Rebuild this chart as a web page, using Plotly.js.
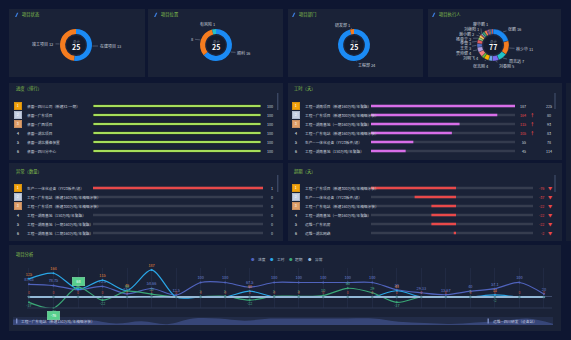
<!DOCTYPE html>
<html><head><meta charset="utf-8">
<script src="https://cdn.plot.ly/plotly-3.0.1.min.js"></script>
<style>html,body{margin:0;padding:0;background:#0e1631;}#chart{width:571px;height:340px;}</style>
</head><body><div id="chart"></div>
<script>
// ---------------- DATA ----------------
const statusLabels = ['在建项目', '竣工项目'];
const statusValues = [13, 12];
const riskLabels = ['顺利', '', '有风险'];
const riskValues = [16, 8, 1];
const deptLabels = ['工程部', '研发部'];
const deptValues = [24, 1];
const ownerLabels = ['张鹏','林少华','周志远','刘春刚','陈立','张志刚','孙浩','刘明飞','贾帅健','王芳','李雪','杨亚宁','谢小鹏','刘继阳','廖华鹏','赵磊','钱进','吴迪','郑凯','冯涛','褚明','卫东'];
const ownerValues = [16,11,7,5,3,4,2,4,4,3,3,2,2,1,1,2,2,1,1,1,1,1];

const progressNames = ['桌面—四川公司（新建X1-一期）','桌面—广东项目','桌面—广西项目','桌面—湖北项目','桌面—湖北摄像装置','桌面—四川分中心'];
const progressValues = [100,100,100,100,100,100];

const hourNames = ['工程—湖南项目（新建160万吨/年聚酯）','工程—广东项目（新建300万吨/年精细涂装）','工程—湖南基地（一期160万吨/年聚酯）','工程—广东电站（新建160万吨/年精细涂装）','生产—一体化设备（YY23板件/滤）','工程—湖南基地（150万吨/年聚酯）'];
const hourActual = [187,164,115,105,55,45];
const hourPlan = [225,80,93,83,78,114];

const abnormalNames = ['生产—一体化设备（YY23板件/滤）','工程—广东电站（新建160万吨/年精细涂装）','工程—广东项目（新建300万吨/年精细涂装）','工程—湖南基地（150万吨/年聚酯）','工程—湖南基地（一期160万吨/年聚酯）','工程—湖南基地（二期160万吨/年聚酯）'];
const abnormalValues = [1,0,0,0,0,0];

const overdueNames = ['工程—广东项目（新建300万吨/年精细涂装）','生产—一体化设备（YY23板件/滤）','工程—广东电站（新建160万吨/年精细涂装）','工程—湖南基地（一期160万吨/年聚酯）','运维—广东机房','运维—湖北网络'];
const overdueValues = [-76,-37,-22,-22,-22,-2];

const projectNames = ['工程—广东电站（新建150万吨/年精细涂装）','工程—湖南项目（新建160万吨/年聚酯）','工程—广东项目（新建300万吨/年精细涂装）','工程—湖南基地（一期160万吨/年聚酯）','生产—一体化设备（YY23板件/滤）','工程—湖南基地（150万吨/年聚酯）','桌面—四川公司（新建X1-一期）','桌面—广东项目','桌面—广西项目','运维—广西机房','桌面—湖北项目','桌面—湖北摄像装置','桌面—四川分中心','运维—湖北基地','工程—湖南基地（二期160万吨/年聚酯）','运维—湖南机房','运维—广东机房','生产—湖北设备','运维—广西网络','运维—湖北网络','桌面—湖南分中心','运维—四川研发（设备站）'];
const seriesProgress = [87.33,78.75,50,72.5,21.7,58.66,12.5,100,100,67.5,100,100,100,100,100,50,29.33,15.67,40,57.1,100,20];
const seriesHours    = [125,164,55,115,45,187,0,0,0,40,0,0,0,0,0,43,0,0,0,14,0,0];
const seriesOverdue  = [-37,-76,68,-22,40,20,0,3,5,-22,5,5,10,60,29,-37,0,0,2,-2,0,0];
const seriesAbnormal = [0,0,0,0,0,1,0,0,0,0,0,0,0,0,0,0,0,0,0,0,0,0];
const seriesNames = ['进度','工时','超期','异常'];

// ---------------- HELPERS ----------------
const W = 571, H = 340;
const px = x => x / W, py = y => 1 - y / H;
const FONT = '"Noto Sans CJK SC","Noto Sans",sans-serif';
const C = {bg:'#0e1631', panel:'#1a2237', title:'#86c24e', head:'#8d97ab', text:'#c9d0dc', dim:'#7f8aa0'};
const traces = [], shapes = [], ann = [];
const layout = {width:W, height:H, margin:{l:0,r:0,t:0,b:0}, paper_bgcolor:C.bg, plot_bgcolor:'rgba(0,0,0,0)',
  showlegend:false, barmode:'overlay', hovermode:false, font:{family:FONT, size:4, color:C.text}};

function txt(x, y, text, o) {
  o = o || {};
  ann.push(Object.assign({xref:'paper', yref:'paper', x:px(x), y:py(y), text:text, showarrow:false,
    xanchor:o.xa || 'left', yanchor:'middle', font:{family:FONT, size:o.size || 4, color:o.color || C.text}}, o.extra || {}));
}
function rect(x0, y0, x1, y1, color, layer) {
  shapes.push({type:'rect', xref:'paper', yref:'paper', x0:px(x0), x1:px(x1), y0:py(y1), y1:py(y0),
    fillcolor:color, line:{width:0}, layer:layer || 'below'});
}

// ---------------- PANELS ----------------
[[9,9,145,77],[148,9,283,77],[288,9,423,77],[428,9,561,77],[9,83,283,160],[288,83,562,160],[9,163,283,241],[288,163,562,241],[9,245,561,331]]
  .forEach(p => rect(p[0], p[1], p[2], p[3], C.panel));
rect(566, 83, 571, 241, '#161e33');

// titles
[[15,15,'项目状态',1],[154,15,'项目位置',1],[292,15,'项目部门',1],[432,15,'项目执行人',1],
 [14,89,'进度（排行）',0],[292,89,'工时（天）',0],[14,171,'异常（数量）',0],[292,171,'超期（天）',0],[14,254,'项目分析',0]]
 .forEach(t => {
  let x = t[0];
  if (t[3]) {
    shapes.push({type:'path', xref:'paper', yref:'paper', layer:'above',
      path:`M ${px(x)},${py(t[1]+2)} L ${px(x+1.4)},${py(t[1]+2)} L ${px(x+3.4)},${py(t[1]-2.2)} L ${px(x+2)},${py(t[1]-2.2)} Z`,
      fillcolor:'#3b7ddd', line:{width:0}});
    x += 5;
  }
  txt(x, t[1], t[2], {color:C.title, size:4.3});
});

// ---------------- DONUTS ----------------
function donut(values, labels, colors, cx, cy, r, labelPos, sep) {
  traces.push({type:'pie', values:values, sort:false, direction:'clockwise', rotation:0, hole:0.68,
    textinfo:'none', hoverinfo:'skip', showlegend:false,
    marker:{colors:colors, line:{width:sep || 0, color:C.panel}},
    domain:{x:[px(cx-r), px(cx+r)], y:[py(cy+r), py(cy-r)]}});
  shapes.push({type:'circle', xref:'paper', yref:'paper', x0:px(cx-10), x1:px(cx+10), y0:py(cy+10), y1:py(cy-10),
    fillcolor:'#141b2d', line:{width:0.4, color:'#2a3350'}, layer:'below'});
  const total = values.reduce((a,b)=>a+b, 0);
  txt(cx, cy-4, '总计', {xa:'center', size:3.4, color:C.dim});
  txt(cx, cy+2, '<b>' + total + '</b>', {xa:'center', size:7, color:'#ffffff'});
  let cum = 0;
  values.forEach((v, i) => {
    const mid = (cum + v/2) / total * 2 * Math.PI; cum += v;
    const pos = labelPos[i]; if (!pos) return;
    const hx = cx + (r+0.5) * Math.sin(mid), hy = cy - (r+0.5) * Math.cos(mid);
    ann.push({xref:'paper', yref:'paper', x:px(hx), y:py(hy), ax:pos[0]-hx, ay:pos[1]-hy,
      text:(labels[i] ? labels[i] + ' ' : '') + v, showarrow:true, arrowhead:0, arrowwidth:0.5,
      arrowcolor:'#7e889c', standoff:0, font:{family:FONT, size:4, color:C.text}});
  });
}
donut(statusValues, statusLabels, ['#1b8bf5','#f57c1f'], 76, 45, 16, [[110,46],[43,43.5]]);
donut(riskValues, riskLabels, ['#1b8bf5','#f57c1f','#25c0c8'], 216, 45, 16, [[244,53],[192,39],[207,24]]);
donut(deptValues, deptLabels, ['#1b8bf5','#f57c1f'], 354, 45, 16, [[367,65],[342,25]]);
const ownerPos = [];
ownerPos[0]=[515,28.5]; ownerPos[1]=[524.5,49]; ownerPos[2]=[516.5,61]; ownerPos[3]=[506.5,66];
ownerPos[5]=[480.5,65.5]; ownerPos[7]=[470.5,58]; ownerPos[8]=[463.5,52.5]; ownerPos[9]=[465,47.5];
ownerPos[10]=[465,43]; ownerPos[11]=[463.5,38.5]; ownerPos[12]=[467,33.5]; ownerPos[13]=[471.5,28.5]; ownerPos[14]=[480.5,24];
donut(ownerValues, ownerLabels,
  ['#1b8bf5','#f57c1f','#22c3c7','#7b6cf0','#6fa8e8','#f7b500','#67c23a','#f08080','#b19cd9','#5470c6','#e15d5d','#91cc75','#fac858','#ee6666','#73c0de','#3ba272','#fc8452','#9a60b4','#ea7ccc','#e6a23c','#409eff','#f56c6c'],
  493, 45, 16, ownerPos, 0.3);

// ---------------- TABLES ----------------
function axes(n, xd, yd, xr) {
  const s = n === 1 ? '' : n;
  layout['xaxis'+s] = {domain:[px(xd[0]), px(xd[1])], range:xr, visible:false, fixedrange:true, anchor:'y'+s};
  layout['yaxis'+s] = {domain:[py(yd[1]), py(yd[0])], type:'category', range:[5.5,-0.5], visible:false, fixedrange:true, anchor:'x'+s};
  return {x:'x'+s, y:'y'+s};
}
const badge = ['#f2a20a','#c5cfe2','#e09e68'];
function rows(ref, names, rankX, nameX) {
  ann.push({xref:'paper', yref:ref.y, x:px(rankX), y:-1, text:'排序', showarrow:false, xanchor:'center', yanchor:'middle', font:{family:FONT,size:3.6,color:C.head}});
  ann.push({xref:'paper', yref:ref.y, x:px(nameX), y:-1, text:'项目', showarrow:false, xanchor:'left', yanchor:'middle', font:{family:FONT,size:3.6,color:C.head}});
  names.forEach((nm, i) => {
    const b = {xref:'paper', yref:ref.y, x:px(rankX), y:i, text:String(i+1), showarrow:false, xanchor:'center', yanchor:'middle',
      font:{family:FONT, size:3.6, color:'#ffffff'}};
    if (i < 3) Object.assign(b, {bgcolor:badge[i], bordercolor:badge[i], borderwidth:0.5, width:6.5, height:6.5, borderpad:0});
    ann.push(b);
    ann.push({xref:'paper', yref:ref.y, x:px(nameX), y:i, text:nm, showarrow:false, xanchor:'left', yanchor:'middle',
      font:{family:FONT, size:3.7, color:C.text}});
  });
}
function colText(ref, x, y, text, color, xa, size) {
  ann.push({xref:'paper', yref:ref.y, x:px(x), y:y, text:text, showarrow:false, xanchor:xa || 'center', yanchor:'middle',
    font:{family:FONT, size:size || 3.7, color:color || C.text}});
}
function scroll(x, y0, y1) { rect(x-0.7, y0, x+0.7, y1, '#3a4662', 'above'); }

// progress table
const r1 = axes(1, [93,261], [101.5,155.5], [0, Math.max(100, ...progressValues)]);
traces.push({type:'bar', orientation:'h', y:progressNames, x:progressValues, xaxis:r1.x, yaxis:r1.y, width:0.34,
  marker:{color:'#a6de5a', line:{color:'#0b1020', width:0.7}}, hoverinfo:'skip'});
rows(r1, progressNames, 18, 25);
colText(r1, 270, -1, '进度', C.head);
progressValues.forEach((v,i) => colText(r1, 270, i, String(v)));
scroll(277.7, 93, 110);

// hours table
const hMax = Math.max(...hourActual);
const r2 = axes(2, [371,515], [101.5,155.5], [0, hMax]);
traces.push({type:'bar', orientation:'h', y:hourNames, x:hourNames.map(()=>hMax), xaxis:r2.x, yaxis:r2.y, width:0.3,
  marker:{color:'#343b4e'}, hoverinfo:'skip'});
traces.push({type:'bar', orientation:'h', y:hourNames, x:hourActual, xaxis:r2.x, yaxis:r2.y, width:0.3,
  marker:{color:'#d86ee8'}, hoverinfo:'skip'});
rows(r2, hourNames, 296, 303);
colText(r2, 525, -1, '实际工时', C.head, 'center', 3.6);
colText(r2, 550, -1, '计划工时', C.head, 'center', 3.6);
hourActual.forEach((v,i) => {
  const over = v > hourPlan[i];
  colText(r2, 528, i, String(v), over ? '#e8494a' : C.text, 'right');
  if (over) colText(r2, 532.5, i, '<b>↑</b>', '#e8494a', 'center', 4.5);
  colText(r2, 549, i, String(hourPlan[i]));
});
scroll(555, 93, 109);

// abnormal table
const aMax = Math.max(1, ...abnormalValues);
const r3 = axes(3, [93,263], [183.5,237.5], [0, aMax]);
traces.push({type:'bar', orientation:'h', y:abnormalNames, x:abnormalNames.map(()=>aMax), xaxis:r3.x, yaxis:r3.y, width:0.3,
  marker:{color:'#363d4f'}, hoverinfo:'skip'});
traces.push({type:'bar', orientation:'h', y:abnormalNames, x:abnormalValues, xaxis:r3.x, yaxis:r3.y, width:0.3,
  marker:{color:'#e8494a'}, hoverinfo:'skip'});
rows(r3, abnormalNames, 18, 25);
colText(r3, 271, -1, '异常', C.head);
abnormalValues.forEach((v,i) => colText(r3, 272, i, String(v)));
scroll(277.7, 175, 192);

// overdue table
const oMin = -Math.max(...overdueValues.map(Math.abs));
const oMax = -oMin * 77 / 85;
const r4 = axes(4, [371,533], [183.5,237.5], [oMin, oMax]);
traces.push({type:'bar', orientation:'h', y:overdueNames, x:overdueNames.map(()=>oMax - oMin), base:oMin, xaxis:r4.x, yaxis:r4.y, width:0.3,
  marker:{color:'#363d4f'}, hoverinfo:'skip'});
traces.push({type:'bar', orientation:'h', y:overdueNames, x:overdueValues, xaxis:r4.x, yaxis:r4.y, width:0.3,
  marker:{color:'#e8494a'}, hoverinfo:'skip'});
rows(r4, overdueNames, 296, 303);
colText(r4, 543, -1, '超期工时', C.head, 'center', 3.6);
overdueValues.forEach((v,i) => {
  colText(r4, 546, i, String(v), '#e8494a', 'right');
  colText(r4, 550, i, '▼', '#e8494a', 'center', 4.2);
});
scroll(555, 175, 192);

// ---------------- LINE CHART ----------------
const yMin = Math.min(...seriesOverdue);
layout.xaxis5 = {domain:[px(27), px(552)], type:'category', range:[-0.08, 21.33], showgrid:true, gridcolor:'#27314b', gridwidth:0.6,
  showticklabels:false, ticks:'', showline:false, zeroline:false, anchor:'y5', fixedrange:true};
layout.yaxis5 = {domain:[py(308), py(268)], range:[yMin, 200], tickvals:[200], showgrid:true, gridcolor:'#27314b', gridwidth:0.6,
  zeroline:true, zerolinecolor:'#4a5878', zerolinewidth:0.8, showticklabels:false, ticks:'', anchor:'x5', fixedrange:true};
shapes.push({type:'line', xref:'paper', yref:'paper', x0:px(27), x1:px(552), y0:py(308), y1:py(308), line:{color:'#2c3653', width:1.2}});
const lineColors = ['#5063bd', '#2aa6e6', '#3aa776', '#93b8d6'];
const labelColors = ['#6e84d8', '#e8873a', '#4fb488', '#c8503a'];
[seriesProgress, seriesHours, seriesOverdue, seriesAbnormal].forEach((s, k) => {
  // zero-valued labels of 工时/超期 sit under the 异常 labels on the zero line, so only 异常 shows them
  const labels = s.map(v => (v === 0 && (k === 1 || k === 2)) ? '' : String(v));
  traces.push({type:'scatter', mode:'lines+markers+text', x:projectNames, y:s, xaxis:'x5', yaxis:'y5',
    line:{color:lineColors[k], width:k === 3 ? 1.8 : 1.2, shape:'spline', smoothing:0.85},
    marker:{size:k === 3 ? 2.6 : 2, color:k === 3 ? '#5d8c9c' : lineColors[k]},
    text:labels, textposition:s.map(v => v < 0 ? 'bottom center' : 'top center'),
    textfont:{family:FONT, size:k === 3 ? 3.4 : 3.8, color:labelColors[k]}, cliponaxis:false, hoverinfo:'skip'});
});
// mark points (max / min of 超期)
const oMaxV = Math.max(...seriesOverdue), oMinV = Math.min(...seriesOverdue);
[[seriesOverdue.indexOf(oMaxV), oMaxV, 6], [seriesOverdue.indexOf(oMinV), oMinV, -7]].forEach(m => {
  ann.push({xref:'x5', yref:'y5', x:m[0], y:m[1], yshift:m[2], text:String(m[1]), showarrow:false, xanchor:'center', yanchor:'middle',
    bgcolor:'#57cf8d', bordercolor:'#8fe6b4', borderwidth:0.4, borderpad:1, width:10, height:6,
    font:{family:FONT, size:3.8, color:'#ffffff'}});
});
// legend
[253, 272, 291, 310].forEach((x, k) => {
  txt(x, 259.5, '●', {xa:'center', size:3.5, color:lineColors[k]});
  txt(x+2.5, 259.5, seriesNames[k], {size:3.7, color:'#b8c0d0'});
});
// data zoom slider
rect(13, 317, 553, 325, '#222c48');
layout.xaxis6 = {domain:[px(13), px(553)], type:'category', range:[0, projectNames.length-1], visible:false, fixedrange:true, anchor:'y6'};
layout.yaxis6 = {domain:[py(325), py(317)], range:[0, 125], visible:false, fixedrange:true, anchor:'x6'};
traces.push({type:'scatter', mode:'lines', x:projectNames, y:seriesProgress, xaxis:'x6', yaxis:'y6', fill:'tozeroy',
  fillcolor:'rgba(72,92,160,0.55)', line:{width:0, shape:'spline'}, hoverinfo:'skip'});
rect(16, 318.5, 17.4, 323.5, '#7d8fc8', 'above');
rect(487.5, 318.5, 488.9, 323.5, '#7d8fc8', 'above');
txt(19, 321, projectNames[0], {size:3.7, color:'#c4cbe0'});
txt(491, 321, projectNames[projectNames.length-1], {size:3.7, color:'#c4cbe0'});

layout.shapes = shapes;
layout.annotations = ann;
Plotly.newPlot('chart', traces, layout, {staticPlot:true, displayModeBar:false});
</script>
</body></html>
